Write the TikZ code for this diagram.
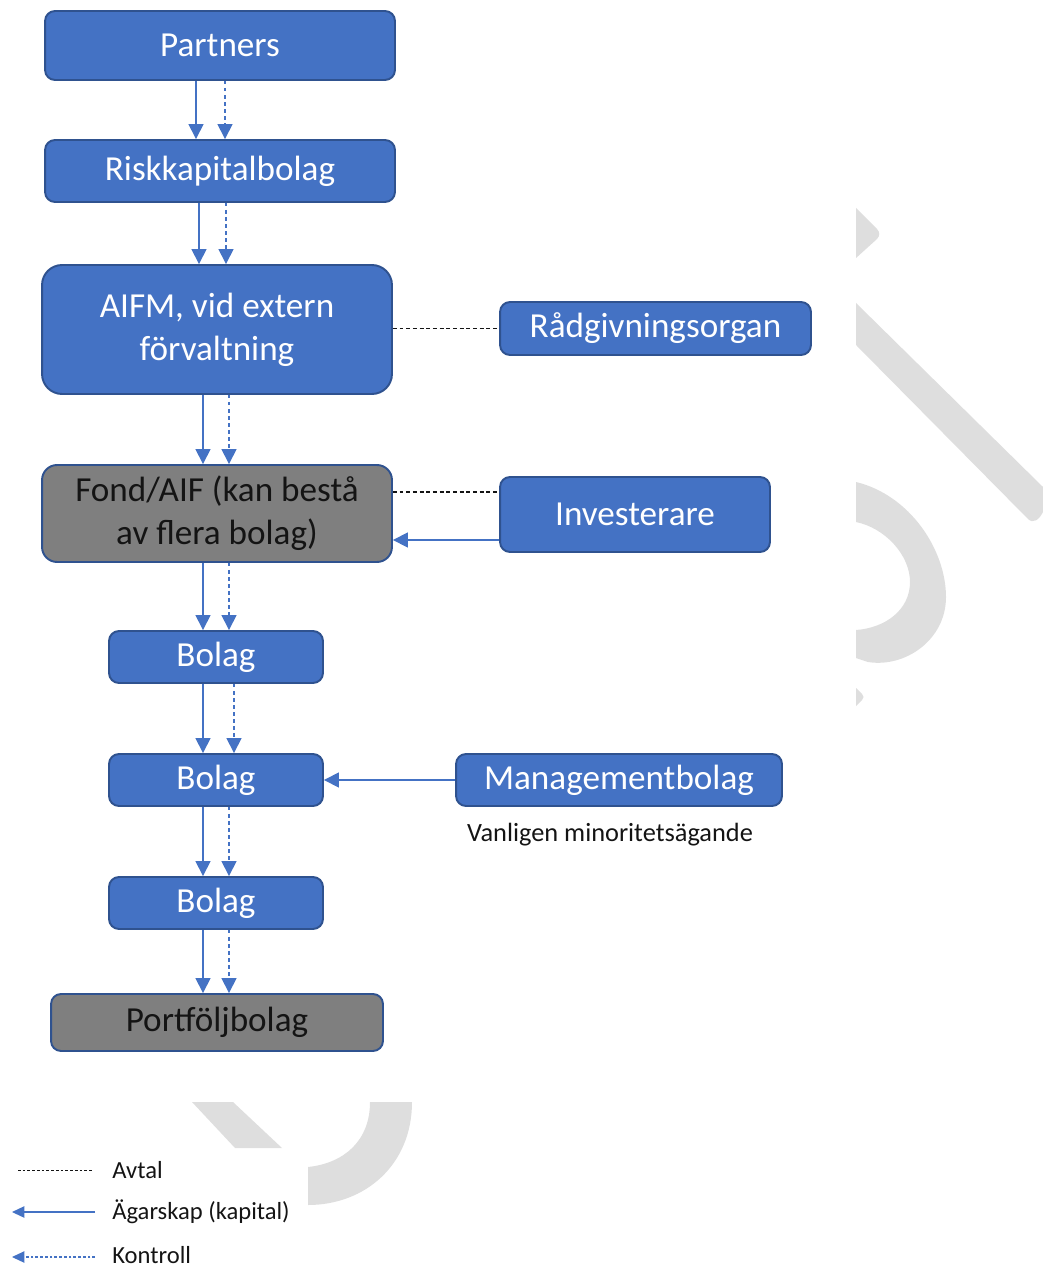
\documentclass[tikz,border=0pt]{standalone}
\usepackage{fontspec}
\setmainfont{Carlito}
\usepackage{tikz}
\usetikzlibrary{arrows.meta, positioning}
\definecolor{blaFyll}{RGB}{68, 114, 196}
\definecolor{blaKant}{RGB}{47, 82, 143}
\definecolor{graFyll}{RGB}{127, 127, 127}
\definecolor{vattenGra}{RGB}{222, 222, 222}
\definecolor{svartText}{RGB}{20, 20, 20}

\begin{document}
\begin{tikzpicture}[x=0.02cm, y=-0.02cm,
  ruta/.style={rectangle, rounded corners=0.2cm, draw=blaKant,
    fill=blaFyll, line width=1.1pt, minimum width=7cm,
    minimum height=1.04cm, align=center, text=white,
    font=\fontsize{20}{24.5}\selectfont},
  gruta/.style={ruta, fill=graFyll, text=svartText},
  agar/.style={-{Triangle[length=3mm, width=3mm]}, draw=blaFyll,
    line width=0.9pt},
  kontroll/.style={agar, dashed, dash pattern=on 2pt off 2pt},
  avtal/.style={draw=svartText, line width=0.6pt,
    dash pattern=on 2.2pt off 1.6pt},
  lbl/.style={font=\fontsize{14}{17}\selectfont, text=svartText,
    inner sep=0pt},
]
\useasboundingbox (0,0) rectangle (1043,1270);

% vattenmarke (watermark)
\fill[vattenGra] (856,208) -- (877,229) .. controls (880,232) and (880,236)
  .. (877,239) -- (856,258) -- cycle;
\fill[vattenGra] (856,303) -- (1043,487) -- (1043,512)
  .. controls (1039,520) and (1033,524) .. (1028,519) -- (856,345) -- cycle;
\fill[vattenGra] (856,482) .. controls (910,495) and (946,550) .. (946,597)
  .. controls (946,640) and (905,668) .. (868,662) -- (856,658) -- (856,630)
  .. controls (885,628) and (910,610) .. (910,582)
  .. controls (910,555) and (885,528) .. (856,522) -- cycle;
\fill[vattenGra] (856,688) -- (862,694) .. controls (864,696) and (864,698)
  .. (862,700) -- (856,706) -- cycle;
\fill[vattenGra] (192,1102) -- (233,1102) -- (282,1148) -- (235,1148) -- cycle;
\fill[vattenGra] (370,1102) -- (412,1102)
  .. controls (412,1165) and (365,1205) .. (308,1205) -- (308,1167)
  .. controls (345,1163) and (370,1140) .. (370,1102) -- cycle;

% rutor
\node[ruta, minimum height=1.38cm] (partners) at (220,45.5) {Partners};
\node[ruta, minimum height=1.24cm] (risk) at (220,171) {Riskkapitalbolag};
\node[ruta, minimum height=2.58cm, rounded corners=0.4cm] (aifm)
  at (217,329.5) {AIFM, vid extern\\förvaltning};
\node[ruta, minimum width=6.22cm, minimum height=1.06cm] (rad)
  at (655.5,328.5) {Rådgivningsorgan};
\node[gruta, minimum height=1.94cm, rounded corners=0.3cm] (fond)
  at (217,513.5) {Fond/AIF (kan bestå\\av flera bolag)};
\node[ruta, minimum width=5.4cm, minimum height=1.5cm] (inv)
  at (635,514.5) {Investerare};
\node[ruta, minimum width=4.28cm] (bolagA) at (216,657) {Bolag};
\node[ruta, minimum width=4.28cm] (bolagB) at (216,780) {Bolag};
\node[ruta, minimum width=6.52cm] (mgmt) at (619,780) {Managementbolag};
\node[lbl, font=\fontsize{15}{18}\selectfont] (vanligen) at (610,835)
  {Vanligen minoritetsägande};
\node[ruta, minimum width=4.28cm] (bolagC) at (216,903) {Bolag};
\node[gruta, minimum width=6.64cm, minimum height=1.14cm] (portf)
  at (217,1022.5) {Portföljbolag};

% pilar nedåt
\draw[agar] (partners.south -| 196,0) -- (risk.north -| 196,0);
\draw[kontroll] (partners.south -| 225,0) -- (risk.north -| 225,0);
\draw[agar] (risk.south -| 199,0) -- (aifm.north -| 199,0);
\draw[kontroll] (risk.south -| 226,0) -- (aifm.north -| 226,0);
\draw[agar] (aifm.south -| 203,0) -- (fond.north -| 203,0);
\draw[kontroll] (aifm.south -| 229,0) -- (fond.north -| 229,0);
\draw[agar] (fond.south -| 203,0) -- (bolagA.north -| 203,0);
\draw[kontroll] (fond.south -| 229,0) -- (bolagA.north -| 229,0);
\draw[agar] (bolagA.south -| 203,0) -- (bolagB.north -| 203,0);
\draw[kontroll] (bolagA.south -| 234,0) -- (bolagB.north -| 234,0);
\draw[agar] (bolagB.south -| 203,0) -- (bolagC.north -| 203,0);
\draw[kontroll] (bolagB.south -| 229,0) -- (bolagC.north -| 229,0);
\draw[agar] (bolagC.south -| 203,0) -- (portf.north -| 203,0);
\draw[kontroll] (bolagC.south -| 229,0) -- (portf.north -| 229,0);

% sidokopplingar
\draw[avtal] (aifm.east |- rad.west) -- (rad.west);
\draw[avtal] (fond.east |- 0,492) -- (inv.west |- 0,492);
\draw[agar] (inv.west |- 0,540) -- (fond.east |- 0,540);
\draw[agar] (mgmt.west) -- (bolagB.east);

% förklaring
\coordinate (avtalV) at (18,1170);
\coordinate (avtalH) at (93,1170);
\coordinate (agarV) at (12,1212);
\coordinate (agarH) at (95,1212);
\coordinate (kontrV) at (12,1257);
\coordinate (kontrH) at (95,1257);
\draw[avtal, line width=0.5pt, dash pattern=on 1.5pt off 1.2pt]
  (avtalV) -- (avtalH);
\draw[agar, line width=0.7pt, -{Triangle[length=2.5mm, width=2.3mm]}]
  (agarH) -- (agarV);
\draw[kontroll, line width=0.6pt, dash pattern=on 1.5pt off 1.2pt,
  -{Triangle[length=2.5mm, width=2.3mm]}] (kontrH) -- (kontrV);
\node[lbl, anchor=west] (txtAvtal) at (112,1170) {Avtal};
\node[lbl, anchor=west] (txtAgar) at (112,1212) {Ägarskap (kapital)};
\node[lbl, anchor=west] (txtKontr) at (112,1255) {Kontroll};
\end{tikzpicture}
\end{document}
